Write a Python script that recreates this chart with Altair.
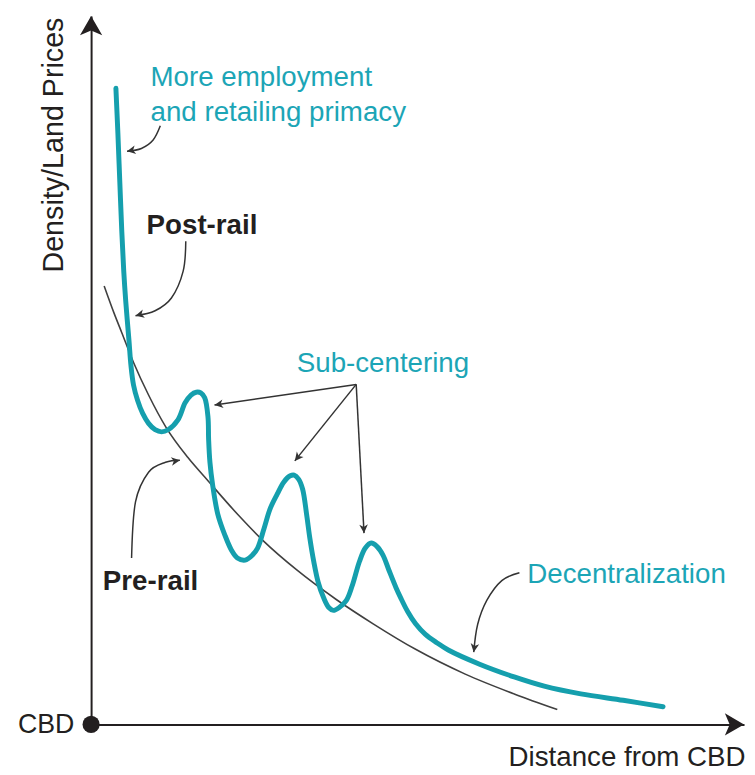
import math
import altair as alt
import pandas as pd

TEAL = "#159fad"
TEAL_TEXT = "#1ca5b6"
DARK = "#231f20"
GRAY = "#404040"
W, H = 660, 716

# Post-rail density / land price curve (distance from CBD, density)
post_x = [0.38, 0.41, 0.44, 0.47, 0.50, 0.53, 0.58, 0.61, 0.65, 0.71,
          0.79, 0.88, 0.98, 1.08, 1.18, 1.33, 1.44, 1.53, 1.61, 1.68,
          1.74, 1.79, 1.80, 1.82, 1.86, 1.94, 2.05, 2.15, 2.24, 2.36,
          2.47, 2.55, 2.65, 2.74, 2.85, 2.95, 3.05, 3.11, 3.18, 3.24,
          3.30, 3.35, 3.41, 3.48, 3.56, 3.64, 3.71, 3.80, 3.91, 4.00,
          4.11, 4.20, 4.29, 4.38, 4.47, 4.56, 4.67, 4.74, 4.85, 4.97,
          5.12, 5.30, 5.47, 5.95, 6.48, 6.94, 7.50, 8.15, 8.76]
post_y = [8.98, 8.35, 7.65, 6.96, 6.40, 5.98, 5.42, 5.07, 4.79, 4.58,
          4.39, 4.25, 4.16, 4.13, 4.16, 4.30, 4.54, 4.65, 4.69, 4.68,
          4.61, 4.34, 4.02, 3.70, 3.39, 2.97, 2.67, 2.46, 2.35, 2.32,
          2.39, 2.49, 2.77, 3.04, 3.25, 3.42, 3.51, 3.52, 3.46, 3.32,
          2.97, 2.63, 2.30, 2.00, 1.79, 1.65, 1.61, 1.65, 1.75, 1.96,
          2.30, 2.49, 2.56, 2.51, 2.39, 2.18, 1.93, 1.79, 1.59, 1.42,
          1.27, 1.15, 1.05, 0.85, 0.67, 0.54, 0.43, 0.34, 0.25]

# Pre-rail curve
pre_x = [0.20, 0.35, 0.47, 0.65, 0.88, 1.15, 1.48, 1.79, 2.24, 2.65,
         3.15, 3.76, 4.32, 4.97, 5.73, 6.48, 7.14]
pre_y = [6.19, 5.81, 5.53, 5.11, 4.65, 4.19, 3.77, 3.44, 2.97, 2.58,
         2.18, 1.76, 1.42, 1.06, 0.71, 0.43, 0.21]

# Annotation arrows (tip is the last point)
arrow_names = ["primacy", "postrail", "prerail", "sub1", "sub2", "sub3", "decentral"]
arrow_x = [
    [1.06, 0.95, 0.77, 0.55],
    [1.45, 1.41, 1.23, 0.98, 0.68],
    [0.62, 0.68, 0.88, 1.14, 1.36],
    [4.06, 1.89],
    [4.06, 3.12],
    [4.06, 4.18],
    [6.56, 6.29, 6.06, 5.92, 5.86],
]
arrow_y = [
    [8.45, 8.25, 8.13, 8.09],
    [6.82, 6.40, 6.02, 5.84, 5.77],
    [2.35, 3.14, 3.56, 3.70, 3.73],
    [4.80, 4.51],
    [4.80, 3.72],
    [4.80, 2.70],
    [2.14, 2.03, 1.75, 1.41, 1.02],
]

# Labels
teal_labels = ["More employment\nand retailing primacy", "Sub-centering", "Decentralization"]
teal_lx = [0.91, 3.15, 6.68]
teal_ly = [9.01, 4.97, 2.00]
bold_labels = ["Post-rail", "Pre-rail"]
bold_lx = [0.85, 0.18]
bold_ly = [6.93, 1.90]
origin_label = ["CBD"]

X_DOMAIN = [0, 10]
Y_DOMAIN = [0, 10]

post_df = pd.DataFrame({"x": post_x, "y": post_y})
pre_df = pd.DataFrame({"x": pre_x, "y": pre_y})

rows, heads = [], []
for name, xs, ys in zip(arrow_names, arrow_x, arrow_y):
    for i, (a, b) in enumerate(zip(xs, ys)):
        rows.append({"arrow": name, "i": i, "x": a, "y": b})
    dx = xs[-1] - xs[-2]
    dy = ys[-1] - ys[-2]
    ang = math.degrees(math.atan2(dx * W / 10, dy * H / 10)) % 360
    heads.append({"x": xs[-1], "y": ys[-1], "angle": ang})
arrows_df = pd.DataFrame(rows)
heads_df = pd.DataFrame(heads)

axis_heads_df = pd.DataFrame({"x": [X_DOMAIN[0], X_DOMAIN[1]],
                              "y": [Y_DOMAIN[1], Y_DOMAIN[0]],
                              "angle": [0, 90]})
origin_df = pd.DataFrame({"x": [X_DOMAIN[0]], "y": [Y_DOMAIN[0]]})
teal_df = pd.DataFrame({"x": teal_lx, "y": teal_ly, "t": teal_labels})
bold_df = pd.DataFrame({"x": bold_lx, "y": bold_ly, "t": bold_labels})
cbd_df = pd.DataFrame({"x": [X_DOMAIN[0]], "y": [Y_DOMAIN[0]], "t": origin_label})

xs_ = alt.Scale(domain=X_DOMAIN, nice=False, zero=False)
ys_ = alt.Scale(domain=Y_DOMAIN, nice=False, zero=False)

FONT = "Liberation Sans"
x_axis = alt.Axis(title="Distance from CBD", domain=True, domainColor=DARK, domainWidth=2,
                  ticks=False, labels=False, grid=False,
                  titleFont=FONT, titleFontSize=28, titleFontWeight="normal", titleColor=DARK,
                  titleX=661, titleY=42, titleAlign="right", titleBaseline="alphabetic")
y_axis = alt.Axis(title="Density/Land Prices", domain=True, domainColor=DARK, domainWidth=2,
                  ticks=False, labels=False, grid=False,
                  titleFont=FONT, titleFontSize=29, titleFontWeight="normal", titleColor=DARK,
                  titleAngle=270, titleX=-29, titleY=1, titleAlign="right",
                  titleBaseline="alphabetic")


def X():
    return alt.X("x:Q", scale=xs_, axis=x_axis)


def Y():
    return alt.Y("y:Q", scale=ys_, axis=y_axis)


pre_line = alt.Chart(pre_df).mark_line(color=GRAY, strokeWidth=1.6, interpolate="monotone").encode(
    x=X(), y=Y())

post_line = alt.Chart(post_df).mark_line(color=TEAL, strokeWidth=5, interpolate="catmull-rom",
                                         strokeCap="round", strokeJoin="round").encode(x=X(), y=Y())

ARROW_SHAPE = "M0,0L-0.5,1L0,0.72L0.5,1Z"
AXIS_ARROW = "M0,0L-0.58,1L0,0.75L0.58,1Z"

ann_lines = alt.Chart(arrows_df).mark_line(color="#333333", strokeWidth=1.5,
                                           interpolate="cardinal").encode(
    x=X(), y=Y(), detail="arrow:N", order="i:Q")

ann_heads = alt.Chart(heads_df).mark_point(shape=ARROW_SHAPE, filled=True, color="#333333",
                                           size=300, opacity=1).encode(
    x=X(), y=Y(), angle=alt.Angle("angle:Q", scale=None))

axis_heads = alt.Chart(axis_heads_df).mark_point(shape=AXIS_ARROW, filled=True, color=DARK,
                                                 size=1500, opacity=1).encode(
    x=X(), y=Y(), angle=alt.Angle("angle:Q", scale=None))

origin_dot = alt.Chart(origin_df).mark_point(shape="circle", filled=True, color=DARK,
                                             size=300, opacity=1).encode(x=X(), y=Y())

teal_text = alt.Chart(teal_df).mark_text(align="left", baseline="alphabetic", font=FONT,
                                         fontSize=28, color=TEAL_TEXT, lineBreak="\n",
                                         lineHeight=35).encode(x=X(), y=Y(), text="t:N")

bold_text = alt.Chart(bold_df).mark_text(align="left", baseline="alphabetic", font=FONT,
                                         fontSize=28, fontWeight="bold", color=DARK).encode(
    x=X(), y=Y(), text="t:N")

cbd_text = alt.Chart(cbd_df).mark_text(align="right", baseline="middle", font=FONT,
                                       fontSize=27, color=DARK, dx=-17, dy=1).encode(
    x=X(), y=Y(), text="t:N")

chart = alt.layer(
    pre_line, post_line, ann_lines, ann_heads, axis_heads, origin_dot,
    teal_text, bold_text, cbd_text
).properties(
    width=W, height=H,
    autosize=alt.AutoSizeParams(type="none"),
    padding={"left": 84, "top": 4, "right": 3, "bottom": 47},
    background="white",
).configure_view(stroke=None)

chart.save("out.html", embed_options={"renderer": "svg", "actions": False})
